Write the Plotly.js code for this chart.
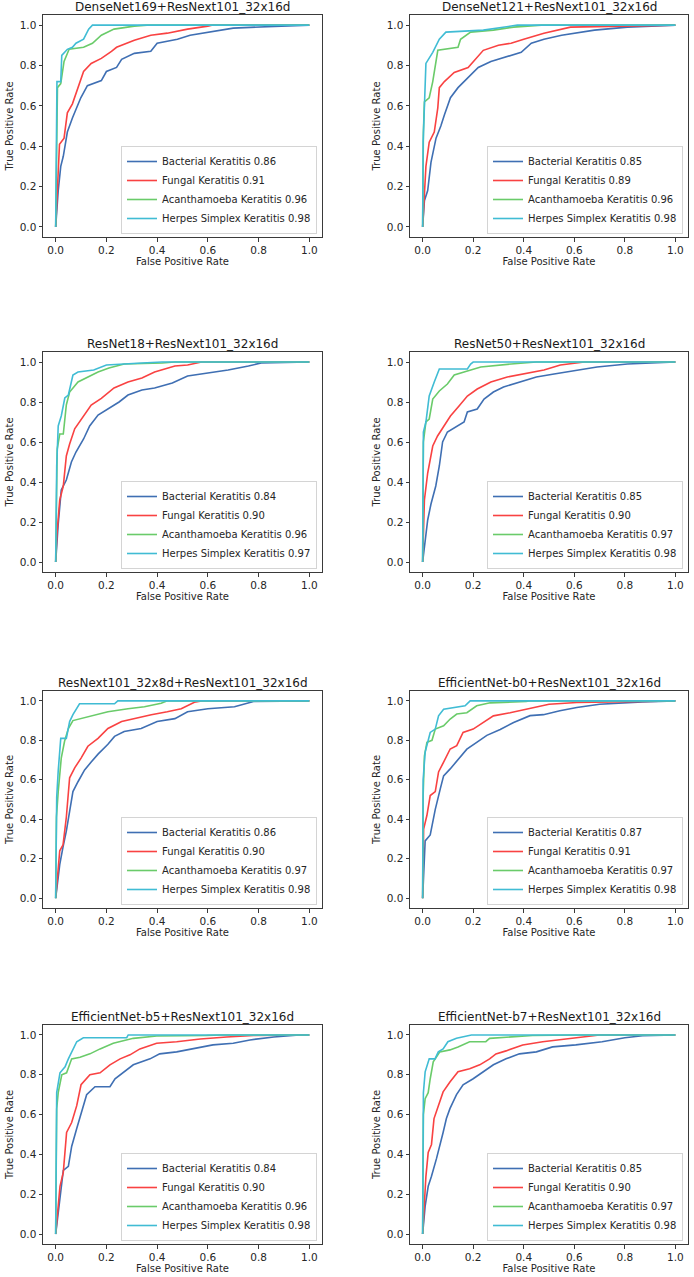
<!DOCTYPE html>
<html>
<head>
<meta charset="utf-8">
<script src="https://cdn.plot.ly/plotly-3.0.1.min.js"></script>
<style>
html,body{margin:0;padding:0;background:#fff;}
#chart{width:694px;height:1277px;}
</style>
</head>
<body>
<div id="chart"></div>
<script>
// ---------- labels ----------
const classNames = ['Bacterial Keratitis', 'Fungal Keratitis', 'Acanthamoeba Keratitis', 'Herpes Simplex Keratitis'];
const panelTitles = [
  'DenseNet169+ResNext101_32x16d',
  'DenseNet121+ResNext101_32x16d',
  'ResNet18+ResNext101_32x16d',
  'ResNet50+ResNext101_32x16d',
  'ResNext101_32x8d+ResNext101_32x16d',
  'EfficientNet-b0+ResNext101_32x16d',
  'EfficientNet-b5+ResNext101_32x16d',
  'EfficientNet-b7+ResNext101_32x16d'
];
const aucValues = [
  [0.86, 0.91, 0.96, 0.98],
  [0.85, 0.89, 0.96, 0.98],
  [0.84, 0.90, 0.96, 0.97],
  [0.85, 0.90, 0.97, 0.98],
  [0.86, 0.90, 0.97, 0.98],
  [0.87, 0.91, 0.97, 0.98],
  [0.84, 0.90, 0.96, 0.98],
  [0.85, 0.90, 0.97, 0.98]
];
const tickVals = [0, 0.2, 0.4, 0.6, 0.8, 1.0];
const tickText = ['0.0', '0.2', '0.4', '0.6', '0.8', '1.0'];

// ---------- ROC points [fpr, tpr] ----------
const dn169_bacterial = [[0,0],[0.003,0.07],[0.01,0.18],[0.02,0.30],[0.03,0.35],[0.046,0.47],[0.066,0.54],[0.099,0.64],[0.125,0.70],[0.18,0.725],[0.2,0.77],[0.24,0.79],[0.26,0.83],[0.31,0.86],[0.375,0.87],[0.40,0.91],[0.48,0.93],[0.53,0.95],[0.625,0.97],[0.70,0.985],[0.89,0.995],[1,1]];
const dn169_fungal = [[0,0],[0.005,0.15],[0.01,0.25],[0.015,0.41],[0.033,0.44],[0.046,0.565],[0.066,0.61],[0.092,0.70],[0.11,0.77],[0.14,0.81],[0.18,0.835],[0.22,0.87],[0.24,0.89],[0.31,0.925],[0.375,0.95],[0.44,0.96],[0.52,0.98],[0.60,0.995],[0.62,1],[1,1]];
const dn169_acanth = [[0,0],[0.004,0.30],[0.007,0.69],[0.02,0.71],[0.033,0.82],[0.053,0.88],[0.11,0.89],[0.145,0.91],[0.18,0.95],[0.23,0.98],[0.31,0.995],[0.36,1],[1,1]];
const dn169_herpes = [[0,0],[0.003,0.34],[0.005,0.72],[0.02,0.72],[0.024,0.85],[0.046,0.88],[0.066,0.89],[0.08,0.91],[0.11,0.93],[0.13,0.98],[0.145,1],[1,1]];

const dn121_bacterial = [[0,0],[0.007,0.13],[0.02,0.18],[0.033,0.32],[0.053,0.44],[0.072,0.50],[0.086,0.555],[0.11,0.64],[0.14,0.69],[0.18,0.74],[0.22,0.79],[0.27,0.82],[0.32,0.84],[0.39,0.865],[0.43,0.91],[0.48,0.93],[0.55,0.95],[0.61,0.96],[0.68,0.975],[0.81,0.99],[1,1]];
const dn121_fungal = [[0,0],[0.007,0.15],[0.013,0.30],[0.026,0.42],[0.046,0.47],[0.06,0.59],[0.066,0.69],[0.086,0.72],[0.125,0.765],[0.18,0.79],[0.2,0.82],[0.24,0.875],[0.30,0.90],[0.35,0.91],[0.40,0.93],[0.48,0.96],[0.585,0.99],[0.77,0.995],[1,1]];
const dn121_acanth = [[0,0],[0.003,0.47],[0.007,0.62],[0.026,0.64],[0.04,0.72],[0.06,0.875],[0.14,0.89],[0.15,0.93],[0.19,0.965],[0.28,0.975],[0.36,0.99],[0.45,0.997],[0.47,1],[1,1]];
const dn121_herpes = [[0,0],[0.002,0.42],[0.013,0.81],[0.04,0.865],[0.066,0.93],[0.092,0.965],[0.24,0.975],[0.375,1],[1,1]];

const rn18_bacterial = [[0,0],[0.01,0.19],[0.022,0.36],[0.042,0.41],[0.062,0.50],[0.08,0.55],[0.11,0.615],[0.134,0.68],[0.167,0.735],[0.21,0.77],[0.25,0.80],[0.285,0.835],[0.34,0.86],[0.39,0.87],[0.46,0.895],[0.52,0.93],[0.60,0.945],[0.68,0.96],[0.76,0.98],[0.81,0.995],[1,1]];
const rn18_fungal = [[0,0],[0.005,0.14],[0.016,0.31],[0.03,0.38],[0.042,0.53],[0.055,0.59],[0.075,0.666],[0.10,0.71],[0.14,0.785],[0.18,0.818],[0.23,0.87],[0.285,0.90],[0.34,0.92],[0.39,0.95],[0.47,0.98],[0.52,0.985],[0.575,1],[1,1]];
const rn18_acanth = [[0,0],[0.006,0.565],[0.016,0.64],[0.03,0.64],[0.042,0.785],[0.055,0.85],[0.088,0.90],[0.128,0.925],[0.167,0.95],[0.21,0.97],[0.27,0.99],[0.42,0.995],[0.47,1],[1,1]];
const rn18_herpes = [[0,0],[0.004,0.48],[0.01,0.68],[0.022,0.73],[0.036,0.82],[0.05,0.835],[0.068,0.935],[0.088,0.95],[0.15,0.96],[0.2,0.985],[0.34,0.995],[0.42,1],[1,1]];

const rn50_bacterial = [[0,0],[0.007,0.075],[0.02,0.21],[0.033,0.29],[0.052,0.38],[0.066,0.48],[0.079,0.60],[0.098,0.65],[0.125,0.67],[0.164,0.70],[0.177,0.75],[0.216,0.765],[0.243,0.815],[0.28,0.85],[0.32,0.875],[0.387,0.90],[0.45,0.925],[0.52,0.94],[0.61,0.96],[0.69,0.975],[0.81,0.99],[0.95,0.997],[1,1]];
const rn50_fungal = [[0,0],[0.007,0.31],[0.02,0.445],[0.04,0.58],[0.059,0.63],[0.085,0.68],[0.11,0.73],[0.144,0.78],[0.177,0.83],[0.216,0.865],[0.27,0.90],[0.335,0.925],[0.40,0.94],[0.48,0.96],[0.545,0.985],[0.64,1],[1,1]];
const rn50_acanth = [[0,0],[0.003,0.60],[0.013,0.70],[0.026,0.715],[0.04,0.815],[0.066,0.855],[0.098,0.89],[0.125,0.935],[0.164,0.95],[0.23,0.975],[0.35,0.99],[0.45,1],[1,1]];
const rn50_herpes = [[0,0],[0.003,0.65],[0.013,0.70],[0.026,0.83],[0.046,0.90],[0.066,0.965],[0.177,0.965],[0.19,0.99],[0.2,1],[1,1]];

const rnx8_bacterial = [[0,0],[0.007,0.07],[0.016,0.17],[0.029,0.26],[0.042,0.34],[0.055,0.44],[0.068,0.54],[0.088,0.59],[0.114,0.65],[0.14,0.69],[0.167,0.73],[0.206,0.78],[0.232,0.82],[0.27,0.845],[0.337,0.86],[0.40,0.895],[0.47,0.91],[0.52,0.945],[0.60,0.96],[0.705,0.97],[0.78,0.997],[1,1]];
const rnx8_fungal = [[0,0],[0.007,0.105],[0.016,0.24],[0.029,0.27],[0.042,0.41],[0.055,0.61],[0.075,0.66],[0.10,0.71],[0.127,0.77],[0.167,0.81],[0.206,0.86],[0.26,0.895],[0.31,0.91],[0.377,0.93],[0.44,0.945],[0.495,0.96],[0.547,0.993],[0.575,1],[1,1]];
const rnx8_acanth = [[0,0],[0.003,0.41],[0.01,0.54],[0.022,0.71],[0.035,0.795],[0.05,0.86],[0.068,0.90],[0.10,0.91],[0.153,0.93],[0.206,0.945],[0.285,0.96],[0.35,0.97],[0.416,0.988],[0.44,1],[1,1]];
const rnx8_herpes = [[0,0],[0.004,0.51],[0.01,0.645],[0.02,0.81],[0.042,0.81],[0.055,0.895],[0.068,0.93],[0.081,0.955],[0.094,0.985],[0.232,0.985],[0.245,1],[1,1]];

const effb0_bacterial = [[0,0],[0.004,0.12],[0.01,0.29],[0.03,0.32],[0.05,0.45],[0.07,0.555],[0.083,0.62],[0.109,0.655],[0.142,0.705],[0.175,0.755],[0.214,0.79],[0.254,0.825],[0.307,0.855],[0.36,0.89],[0.425,0.925],[0.478,0.93],[0.543,0.95],[0.61,0.966],[0.70,0.983],[0.87,0.995],[1,1]];
const effb0_fungal = [[0,0],[0.004,0.35],[0.017,0.42],[0.03,0.52],[0.05,0.54],[0.063,0.64],[0.083,0.69],[0.109,0.756],[0.135,0.773],[0.16,0.84],[0.2,0.857],[0.24,0.89],[0.28,0.924],[0.346,0.94],[0.41,0.958],[0.5,0.983],[0.61,0.992],[0.74,0.995],[1,1]];
const effb0_acanth = [[0,0],[0.002,0.52],[0.007,0.72],[0.017,0.79],[0.037,0.80],[0.05,0.857],[0.083,0.874],[0.109,0.908],[0.135,0.933],[0.175,0.94],[0.214,0.975],[0.267,0.99],[0.41,0.997],[0.42,1],[1,1]];
const effb0_herpes = [[0,0],[0.002,0.60],[0.01,0.74],[0.03,0.84],[0.05,0.857],[0.063,0.924],[0.083,0.958],[0.122,0.966],[0.168,0.975],[0.188,1],[1,1]];

const effb5_bacterial = [[0,0],[0.004,0.04],[0.017,0.17],[0.03,0.32],[0.05,0.34],[0.063,0.44],[0.083,0.53],[0.10,0.61],[0.122,0.70],[0.155,0.74],[0.214,0.74],[0.234,0.78],[0.267,0.81],[0.306,0.85],[0.372,0.88],[0.41,0.905],[0.477,0.915],[0.54,0.93],[0.62,0.95],[0.70,0.958],[0.766,0.975],[0.86,0.99],[0.96,1],[1,1]];
const effb5_fungal = [[0,0],[0.007,0.12],[0.017,0.24],[0.03,0.31],[0.043,0.51],[0.063,0.56],[0.083,0.645],[0.10,0.75],[0.135,0.80],[0.175,0.81],[0.214,0.85],[0.254,0.88],[0.293,0.90],[0.332,0.93],[0.398,0.958],[0.477,0.966],[0.57,0.98],[0.674,0.99],[0.78,0.997],[1,1]];
const effb5_acanth = [[0,0],[0.004,0.63],[0.01,0.71],[0.024,0.80],[0.043,0.81],[0.063,0.88],[0.096,0.888],[0.135,0.905],[0.175,0.93],[0.227,0.958],[0.306,0.983],[0.398,0.995],[0.595,0.997],[0.65,1],[1,1]];
const effb5_herpes = [[0,0],[0.004,0.71],[0.017,0.81],[0.037,0.84],[0.05,0.88],[0.07,0.93],[0.083,0.966],[0.109,0.986],[0.28,0.986],[0.286,1],[1,1]];

const effb7_bacterial = [[0,0],[0.005,0.07],[0.01,0.14],[0.022,0.24],[0.035,0.29],[0.055,0.38],[0.068,0.44],[0.081,0.51],[0.094,0.58],[0.108,0.63],[0.134,0.70],[0.16,0.75],[0.2,0.78],[0.24,0.815],[0.28,0.85],[0.33,0.88],[0.383,0.905],[0.45,0.915],[0.514,0.94],[0.606,0.95],[0.71,0.966],[0.80,0.986],[0.87,0.996],[1,1]];
const effb7_fungal = [[0,0],[0.005,0.14],[0.013,0.29],[0.022,0.41],[0.035,0.45],[0.045,0.58],[0.062,0.646],[0.081,0.714],[0.108,0.764],[0.14,0.815],[0.186,0.83],[0.226,0.85],[0.265,0.88],[0.29,0.905],[0.33,0.92],[0.396,0.95],[0.475,0.966],[0.58,0.983],[0.685,0.997],[0.7,1],[1,1]];
const effb7_acanth = [[0,0],[0.003,0.60],[0.01,0.68],[0.022,0.71],[0.03,0.78],[0.042,0.865],[0.068,0.915],[0.108,0.925],[0.14,0.94],[0.186,0.966],[0.25,0.966],[0.265,0.983],[0.435,0.997],[0.606,1],[1,1]];
const effb7_herpes = [[0,0],[0.003,0.71],[0.01,0.815],[0.026,0.88],[0.049,0.88],[0.062,0.915],[0.081,0.93],[0.1,0.966],[0.134,0.983],[0.193,1],[1,1]];

const panelCurves = [
  [dn169_bacterial, dn169_fungal, dn169_acanth, dn169_herpes],
  [dn121_bacterial, dn121_fungal, dn121_acanth, dn121_herpes],
  [rn18_bacterial, rn18_fungal, rn18_acanth, rn18_herpes],
  [rn50_bacterial, rn50_fungal, rn50_acanth, rn50_herpes],
  [rnx8_bacterial, rnx8_fungal, rnx8_acanth, rnx8_herpes],
  [effb0_bacterial, effb0_fungal, effb0_acanth, effb0_herpes],
  [effb5_bacterial, effb5_fungal, effb5_acanth, effb5_herpes],
  [effb7_bacterial, effb7_fungal, effb7_acanth, effb7_herpes]
];

// ---------- style / layout ----------
const W = 694, H = 1277;
const lineColors = ['#3f6fb3', '#f94242', '#6acb6a', '#40bcd4'];
const FONT = 'DejaVu Sans, Liberation Sans, sans-serif';
const TXT = '#262626';
const colPx = [[43, 322], [410, 688]];
const rowPx = [[15, 237], [352, 572], [691, 908], [1025, 1244]];

const traces = [];
const layout = {
  width: W, height: H,
  margin: {l: 0, r: 0, t: 0, b: 0},
  paper_bgcolor: '#ffffff',
  plot_bgcolor: '#ffffff',
  font: {family: FONT, size: 10.5, color: TXT},
  showlegend: true,
  annotations: []
};

panelCurves.forEach((curves, p) => {
  const col = p % 2, row = Math.floor(p / 2);
  const n = p + 1;
  const sfx = n === 1 ? '' : String(n);
  const xa = 'x' + sfx, ya = 'y' + sfx;
  const lg = 'legend' + sfx;
  const x0 = colPx[col][0] / W, x1 = colPx[col][1] / W;
  const y0 = 1 - rowPx[row][1] / H, y1 = 1 - rowPx[row][0] / H;

  curves.forEach((pts, c) => {
    traces.push({
      type: 'scatter', mode: 'lines',
      x: pts.map(d => d[0]), y: pts.map(d => d[1]),
      xaxis: xa, yaxis: ya, legend: lg,
      name: classNames[c] + ' ' + aucValues[p][c].toFixed(2),
      line: {color: lineColors[c], width: 1.6},
      hoverinfo: 'skip'
    });
  });

  const axisCommon = {
    range: [-0.05, 1.05], tickvals: tickVals, ticktext: tickText,
    showgrid: false, zeroline: false,
    showline: true, mirror: true, linecolor: '#3a3a3a', linewidth: 1,
    ticks: 'outside', ticklen: 3.5, tickwidth: 1, tickcolor: '#3a3a3a',
    tickfont: {family: FONT, size: 10.5, color: TXT},
    fixedrange: true, automargin: false
  };
  layout['xaxis' + sfx] = Object.assign({}, axisCommon, {
    domain: [x0, x1], anchor: ya,
    title: {text: 'False Positive Rate', font: {family: FONT, size: 10, color: TXT}, standoff: 2}
  });
  layout['yaxis' + sfx] = Object.assign({}, axisCommon, {
    domain: [y0, y1], anchor: xa,
    title: {text: 'True Positive Rate', font: {family: FONT, size: 10, color: TXT}, standoff: 4}
  });
  layout[lg] = {
    x: (colPx[col][1] - 5) / W, y: (H - rowPx[row][1] + 3) / H,
    xanchor: 'right', yanchor: 'bottom',
    bgcolor: 'rgba(255,255,255,0.85)', bordercolor: '#d4d4d4', borderwidth: 1,
    font: {family: FONT, size: 10, color: TXT},
    itemwidth: 30, tracegroupgap: 0
  };
  layout.annotations.push({
    xref: 'paper', yref: 'paper', x: (x0 + x1) / 2, y: y1,
    xanchor: 'center', yanchor: 'bottom', yshift: 0, borderpad: 0, showarrow: false,
    text: panelTitles[p], font: {family: FONT, size: 12, color: '#1a1a1a'}
  });
});

Plotly.newPlot('chart', traces, layout, {displayModeBar: false, staticPlot: true});
</script>
</body>
</html>
